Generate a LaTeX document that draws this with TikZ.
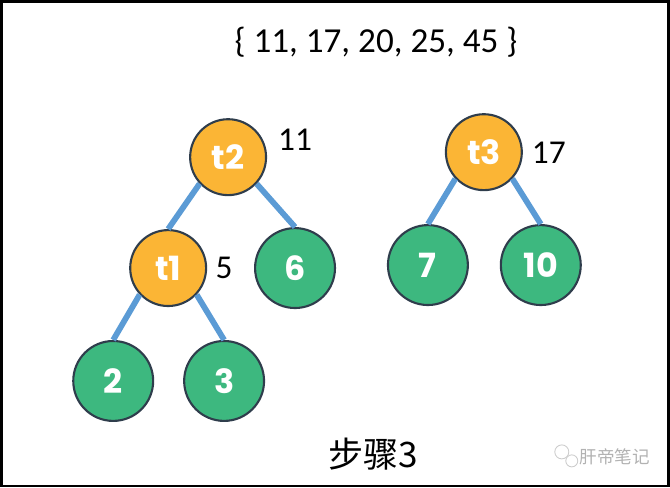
\documentclass[tikz,border=0pt]{standalone}
\usepackage{fontspec}
\setmainfont{Carlito}
\newfontfamily\cjkfont{Noto Sans CJK SC}
\newfontfamily\roundfont{Poppins}
\usetikzlibrary{positioning}
\definecolor{heaporange}{HTML}{FBB535}
\definecolor{heapgreen}{HTML}{3DB87F}
\definecolor{heapline}{HTML}{2F3D4C}
\definecolor{heapedge}{HTML}{5B9BD5}

\begin{document}
\begin{tikzpicture}[
    x=0.02cm, y=-0.02cm,
    tnode/.style={circle, draw=heapline, line width=1.2pt, fill=heaporange, minimum size=1.52cm, inner sep=0pt, text=white, font=\roundfont\bfseries\fontsize{19}{19}\selectfont},
    leaf/.style={tnode, fill=heapgreen, minimum size=1.6cm},
    edge/.style={draw=heapedge, line width=3.3pt},
    weight/.style={font=\fontsize{19}{19}\selectfont}
]

% === FRAME ===
\draw[line width=1.5pt] (1,1) rectangle (669,486);

% === TITLE ===
\node[font=\fontsize{20}{20}\selectfont] (title) at (376,42) {\{ 11, 17, 20, 25, 45 \}};

% === LEFT TREE ===
\node[tnode] (t2) at (228,157) {t2};
\node[tnode] (t1) at (168,268) {t1};
\node[leaf] (six) at (295,268) {6};
\node[leaf] (two) at (113,381) {2};
\node[leaf] (three) at (224,381) {3};

% === RIGHT TREE ===
\node[tnode] (t3) at (484,152) {t3};
\node[leaf] (seven) at (428,265) {7};
\node[leaf] (ten) at (541,265) {10};

% === WEIGHTS ===
\node[weight] (w2) at (295,140) {11};
\node[weight] (w1) at (224,268) {5};
\node[weight] (w3) at (549,153) {17};

% === EDGES ===
\draw[edge] (t2.223) -- (t1.north);
\draw[edge] (t2.317) -- (six.north);
\draw[edge] (t1.223) -- (two.north);
\draw[edge] (t1.317) -- (three.north);
\draw[edge] (t3.223) -- (seven.north);
\draw[edge] (t3.317) -- (ten.north);

% === CAPTION ===
\node[font=\cjkfont\fontsize{20}{20}\selectfont] (step) at (373,454) {步骤3};

% === WATERMARK ===
\draw[gray!40, line width=0.5pt] (562,452) circle (7);
\draw[gray!40, line width=0.5pt] (572,461) circle (6);
\node[font=\cjkfont\fontsize{10}{10}\selectfont, text=gray!60] (mark) at (615,457) {肝帝笔记};

\end{tikzpicture}
\end{document}
